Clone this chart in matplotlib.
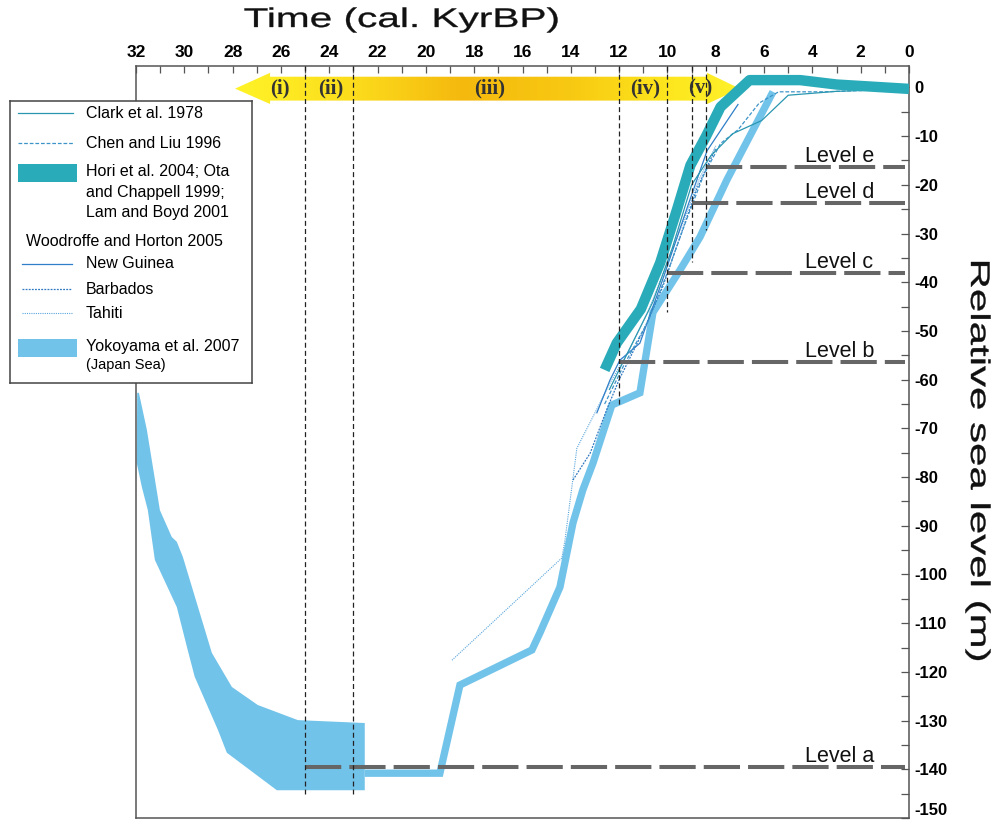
import numpy as np
import matplotlib
matplotlib.use('Agg')
import matplotlib.pyplot as plt
from matplotlib.patches import Polygon, Rectangle, PathPatch
from matplotlib.ticker import MultipleLocator
from matplotlib.textpath import TextPath
from matplotlib.font_manager import FontProperties
from matplotlib.transforms import Affine2D, IdentityTransform

plt.rcParams['font.family'] = ['Liberation Sans', 'DejaVu Sans']
plt.rcParams['axes.unicode_minus'] = False

# ---- data (time in cal. kyr BP, relative sea level in m) ----
# Yokoyama et al. 2007 (Japan Sea): envelope before the LGM floor
yoko_band_x = [31.95, 31.88, 31.55, 31.01, 30.52, 30.31, 30.06, 28.86, 28.03, 26.96, 25.30, 22.53,
               22.53, 26.17, 28.24, 28.61, 29.57, 29.86, 30.31, 31.22, 31.51, 31.76, 31.97]
yoko_band_y = [-62.7, -62.7, -70.3, -86.8, -92.3, -93.3, -96.4, -116.1, -123.1, -126.8, -129.9, -130.5,
               -144.3, -144.3, -136.6, -131.9, -121.0, -115.5, -106.7, -97.0, -86.8, -82.0, -77.1]
# Yokoyama et al. 2007 curve after the floor
yoko_x = [22.53, 19.42, 18.59, 15.61, 15.28, 14.45, 13.91, 13.5, 13.08, 12.3, 11.14, 10.6, 9.48, 8.65, 7.54, 5.63]
yoko_y = [-140.8, -140.8, -122.7, -115.5, -112.0, -102.6, -89.4, -82.6, -77.1, -65.2, -62.7, -46.2, -37.5, -30.7, -19.0, -0.9]

# Hori et al. 2004; Ota and Chappell 1999; Lam and Boyd 2001
hori_x = [12.6, 12.1, 11.1, 10.3, 9.6, 9.05, 8.4, 7.8, 6.6, 4.5, 3.0, 0.0]
hori_y = [-58.0, -52.5, -45.5, -36.0, -25.0, -16.0, -10.0, -4.0, 1.5, 1.5, 0.6, -0.3]

clark_x = [12.4, 11.6, 10.6, 9.8, 9.0, 8.2, 7.3, 6.1, 5.0, 3.0, 0.0]
clark_y = [-62.0, -54.0, -44.0, -33.0, -20.0, -14.0, -9.5, -6.8, -1.6, -0.8, -0.3]

chen_x = [12.6, 11.8, 10.8, 10.0, 9.2, 8.5, 7.8, 7.08, 6.2, 5.4, 3.5, 0.0]
chen_y = [-65.0, -57.0, -48.0, -38.0, -27.0, -18.0, -11.5, -8.7, -3.2, -0.9, -0.9, -0.3]

# Woodroffe and Horton 2005
guinea_x = [12.92, 12.38, 11.97, 11.14, 10.2, 9.1, 8.36, 7.08]
guinea_y = [-66.8, -60.1, -56.0, -52.5, -39.5, -23.5, -13.0, -3.5]

barbados_x = [13.91, 13.2, 12.5, 12.0, 11.0, 10.2, 9.5, 8.8, 8.0]
barbados_y = [-80.6, -75.1, -66.0, -60.0, -50.0, -41.0, -31.0, -21.0, -12.5]

tahiti_x = [18.92, 14.37, 14.24, 13.75, 13.0, 12.38, 11.6, 10.8, 10.0, 9.3, 8.7, 8.0]
tahiti_y = [-117.6, -96.6, -92.9, -74.1, -66.8, -60.7, -54.0, -46.0, -36.0, -27.0, -19.0, -12.0]

# stage boundaries (kyr) and how far down each dashed line runs (m)
stage_x = [25.0, 23.0, 12.0, 10.0, 9.0, 8.4]
stage_bottom = [-145.0, -145.0, -65.6, -46.1, -35.8, -29.3]
stage_names = ['(i)', '(ii)', '(iii)', '(iv)', '(v)']
stage_label_x = [26.05, 23.93, 17.35, 10.93, 8.65]

# sea-level stands
level_names = ['Level a', 'Level b', 'Level c', 'Level d', 'Level e']
level_y = [-139.6, -56.4, -38.1, -23.7, -16.3]
level_start = [25.0, 12.0, 10.0, 9.0, 8.4]

time_ticks = list(range(0, 33, 2))
depth_ticks = list(range(0, -151, -10))
depth_labels = [str(v) for v in depth_ticks]


def wide_text(fig, s, cx, cy, size, length, rotation=0):
    # text drawn as a path, stretched along its reading direction
    tp = TextPath((0, 0), s, size=size, prop=FontProperties(family='Liberation Sans'))
    bb = tp.get_extents()
    tr = (Affine2D().translate(-(bb.x0 + bb.width / 2), -(bb.y0 + bb.height / 2))
          .scale(length / bb.width, 1).rotate_deg(rotation).translate(cx, cy))
    fig.add_artist(PathPatch(tr.transform_path(tp), fc='#111111', ec='#111111', lw=0.25,
                             transform=IdentityTransform()))


# ---- figure ----
fig = plt.figure(figsize=(9.92, 8.23), dpi=100)
ax = fig.add_axes([136/992, 1-818/823, (909-136)/992, (818-66)/823])

LIGHT = '#72c3ea'
TEAL = '#2aabb9'

# yellow arrow with gradient
arrow = Polygon([(27.9, -0.25), (26.45, 3.0), (26.45, 2.2), (8.36, 2.2), (8.36, 3.0), (7.0, -0.25),
                 (8.36, -3.4), (8.36, -2.7), (26.45, -2.7), (26.45, -3.4)],
                closed=True, fc='none', ec='none', zorder=1)
ax.add_patch(arrow)
stops_x = [28.0, 23.0, 18.5, 14.0, 10.0, 6.9]
stops_c = ['#fff428', '#fcdc1c', '#f5b90e', '#f8c912', '#fde61d', '#fff22c']
gx = np.linspace(28.0, 6.9, 400)
rgb = np.array([matplotlib.colors.to_rgb(c) for c in stops_c])
grad = np.stack([np.interp(gx, stops_x[::-1], rgb[::-1, k]) for k in range(3)], axis=-1)
im = ax.imshow(grad[None, :, :], extent=(28.0, 6.9, -3.5, 3.1), aspect='auto', zorder=1)
im.set_clip_path(arrow)
for name, sx in zip(stage_names, stage_label_x):
    ax.text(sx, -0.3, name, family='Liberation Serif', fontweight='bold', fontsize=15,
            color='#333333', ha='center', va='center', zorder=7)

# Yokoyama envelope and curve
ax.fill(yoko_band_x, yoko_band_y, color=LIGHT, lw=0, zorder=2)
ax.plot(yoko_x, yoko_y, color=LIGHT, lw=5.3, solid_joinstyle='miter', solid_capstyle='butt', zorder=2)

# thin curves
ax.plot(tahiti_x, tahiti_y, color='#5aa6dc', lw=0.8, ls=(0, (1, 1)), zorder=3)
ax.plot(barbados_x, barbados_y, color='#2f78c0', lw=0.9, ls=(0, (1.5, 1)), zorder=3)
ax.plot(guinea_x, guinea_y, color='#2f7fc8', lw=0.9, zorder=3)
ax.plot(chen_x, chen_y, color='#3d94c8', lw=0.9, ls=(0, (3, 1.5)), zorder=3)
ax.plot(clark_x, clark_y, color='#2a97b0', lw=0.9, zorder=3)

# Hori et al. thick curve
ax.plot(hori_x, hori_y, color=TEAL, lw=7.5, solid_capstyle='butt', solid_joinstyle='round', zorder=4)

# level lines
for name, ly, lx in zip(level_names, level_y, level_start):
    ax.plot([lx, 0.15], [ly, ly], color='#666666', lw=2.9, ls=(0, (9, 2)),
            solid_capstyle='butt', dash_capstyle='butt', zorder=5)
    ax.text(4.3, ly + 1.0, name, fontsize=15.5, ha='left', va='baseline', color='#111111', zorder=6)

# stage boundaries
for sx, sb in zip(stage_x, stage_bottom):
    ax.plot([sx, sx], [4.4, sb], color='#222222', lw=0.9, ls=(0, (4, 2.5)), zorder=6)

# axes styling
ax.set_xlim(32, 0)
ax.set_ylim(-150, 4.4)
ax.xaxis.tick_top()
ax.yaxis.tick_right()
ax.set_xticks(time_ticks)
ax.set_xticklabels([str(t) for t in time_ticks], fontweight='bold', fontsize=12.5)
ax.xaxis.set_minor_locator(MultipleLocator(1))
ax.set_yticks(depth_ticks)
ax.set_yticklabels(depth_labels, fontweight='bold', fontsize=12)
ax.get_yticklabels()[-1].set_verticalalignment('bottom')
ax.yaxis.set_minor_locator(MultipleLocator(5))
ax.tick_params(axis='x', which='both', direction='in', length=5, width=0.9, color='#555555', pad=4)
ax.tick_params(axis='y', which='both', direction='in', length=6, width=0.9, color='#555555', pad=4)
for s in ax.spines.values():
    s.set_color('#555555')
    s.set_linewidth(1.1)

# axis titles, stretched like the original
wide_text(fig, 'Time (cal. KyrBP)', 401, 823 - 20, 27, 313)
wide_text(fig, 'Relative sea level (m)', 978, 823 - 461, 27, 398, rotation=-90)

# legend box
lax = fig.add_axes([10/992, 1-383/823, 242/992, 282/823])
lax.set_xlim(0, 242)
lax.set_ylim(282, 0)
lax.set_xticks([])
lax.set_yticks([])
for s in lax.spines.values():
    s.set_color('#444444')
    s.set_linewidth(1.1)
fs = 11.5
lax.plot([8, 63], [12, 12], color='#2a97b0', lw=0.9)
lax.text(76, 12, 'Clark et al. 1978', fontsize=fs, va='center')
lax.plot([8, 63], [42, 42], color='#3d94c8', lw=0.9, ls=(0, (3, 1.5)))
lax.text(76, 42, 'Chen and Liu 1996', fontsize=fs, va='center')
lax.add_patch(Rectangle((8, 63), 59, 18, color=TEAL, lw=0))
lax.text(76, 71, 'Hori et al. 2004; Ota', fontsize=fs, va='center')
lax.text(76, 91, 'and Chappell 1999;', fontsize=fs, va='center')
lax.text(76, 112, 'Lam and Boyd 2001', fontsize=fs, va='center')
lax.text(16, 141, 'Woodroffe and Horton 2005', fontsize=fs, va='center')
lax.plot([12, 62], [163, 163], color='#2f7fc8', lw=0.9)
lax.text(76, 163, 'New Guinea', fontsize=fs, va='center')
lax.plot([12, 62], [188, 188], color='#2f78c0', lw=0.9, ls=(0, (1.5, 1)))
lax.text(76, 188, 'Barbados', fontsize=fs, va='center')
lax.plot([12, 62], [212, 212], color='#5aa6dc', lw=0.8, ls=(0, (1, 1)))
lax.text(76, 212, 'Tahiti', fontsize=fs, va='center')
lax.add_patch(Rectangle((8, 238), 59, 18, color=LIGHT, lw=0))
lax.text(76, 246, 'Yokoyama et al. 2007', fontsize=fs, va='center')
lax.text(76, 264, '(Japan Sea)', fontsize=10.5, va='center')

fig.savefig('out.png', dpi=100)
